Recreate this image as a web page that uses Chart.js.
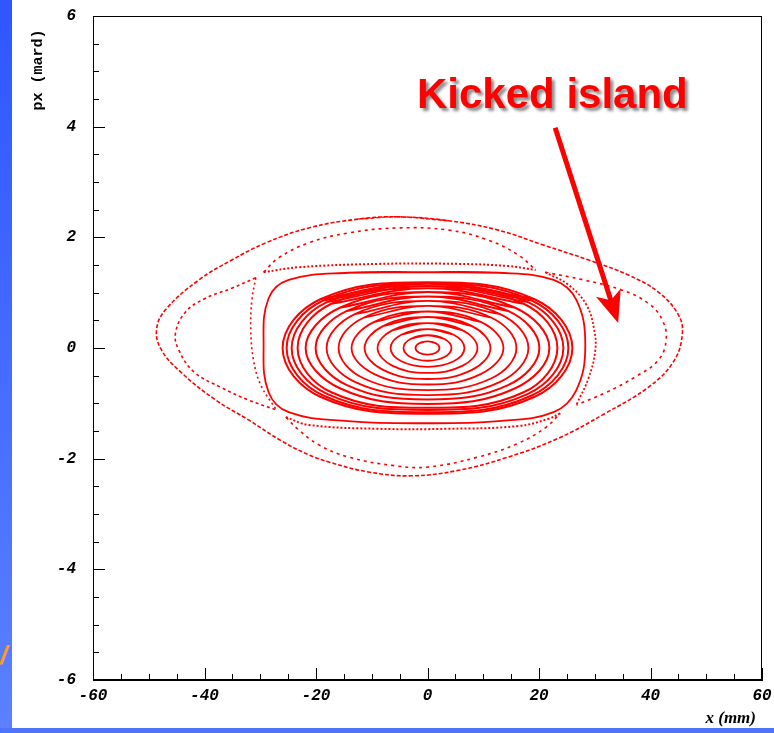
<!DOCTYPE html>
<html>
<head>
<meta charset="utf-8">
<script src="https://cdn.jsdelivr.net/npm/chart.js@4.4.1/dist/chart.umd.min.js"></script>
<style>
  html, body { margin: 0; padding: 0; background: #fff; }
  #wrap { position: relative; width: 774px; height: 733px; overflow: hidden; }
  #band { position: absolute; left: 0; top: 0; width: 12px; height: 733px; background: linear-gradient(#2f56ff, #5c80ff); }
  #foot { position: absolute; left: 0; top: 728px; width: 774px; height: 5px; background: #4f73ff; }
  #slash { position: absolute; left: 0; top: 640px; font: italic bold 26px "Liberation Sans"; color: #ff9a1a; }
  canvas { position: absolute; left: 0; top: 0; }
</style>
</head>
<body>
<div id="wrap">
  <div id="band"></div>
  <div id="foot"></div>
  <div id="slash">/</div>
  <canvas id="chart" width="774" height="733"></canvas>
</div>
<script>
// tick labels
const xTickValues = [-60, -40, -20, 0, 20, 40, 60];
const yTickValues = [-6, -4, -2, 0, 2, 4, 6];

// core orbits (x in mm, px in mrad), each closed from the top
const coreX = [
    [0, 1.52, 2.15, 1.52, 0, -1.52, -2.15, -1.52, 0],
    [0, 3.04, 4.3, 3.04, 0, -3.04, -4.3, -3.04, 0],
    [0, 4.69, 6.63, 4.69, 0, -4.69, -6.63, -4.69, 0],
    [0, 6.33, 8.96, 6.33, 0, -6.33, -8.96, -6.33, 0],
    [0, 7.98, 11.29, 7.98, 0, -7.98, -11.29, -7.98, 0],
    [0, 9.63, 13.62, 9.63, 0, -9.63, -13.62, -9.63, 0],
    [0, 11.48, 15.95, 11.48, 0, -11.48, -15.95, -11.48, 0],
    [0, 13.03, 18.1, 13.03, 0, -13.03, -18.1, -13.03, 0],
    [0, 14.45, 20.07, 14.45, 0, -14.45, -20.07, -14.45, 0],
    [0, 15.74, 21.86, 15.74, 0, -15.74, -21.86, -15.74, 0],
    [0, 17.24, 23.3, 17.24, 0, -17.24, -23.3, -17.24, 0],
    [0, 18.03, 24.37, 18.03, 0, -18.03, -24.37, -18.03, 0],
    [0, 18.7, 25.27, 18.7, 0, -18.7, -25.27, -18.7, 0],
    [0, 19.23, 25.99, 19.23, 0, -19.23, -25.99, -19.23, 0]
];
const coreY = [
    [0.12, 0.085, 0, -0.085, -0.12, -0.085, 0, 0.085, 0.12],
    [0.23, 0.163, 0, -0.163, -0.23, -0.163, 0, 0.163, 0.23],
    [0.34, 0.24, 0, -0.24, -0.34, -0.24, 0, 0.24, 0.34],
    [0.45, 0.318, 0, -0.318, -0.45, -0.318, 0, 0.318, 0.45],
    [0.56, 0.396, 0, -0.396, -0.56, -0.396, 0, 0.396, 0.56],
    [0.66, 0.467, 0, -0.467, -0.66, -0.467, 0, 0.467, 0.66],
    [0.76, 0.547, 0, -0.547, -0.76, -0.547, 0, 0.547, 0.76],
    [0.85, 0.612, 0, -0.612, -0.85, -0.612, 0, 0.612, 0.85],
    [0.93, 0.67, 0, -0.67, -0.93, -0.67, 0, 0.67, 0.93],
    [1.01, 0.727, 0, -0.727, -1.01, -0.727, 0, 0.727, 1.01],
    [1.08, 0.80, 0, -0.80, -1.08, -0.80, 0, 0.80, 1.08],
    [1.12, 0.829, 0, -0.829, -1.12, -0.829, 0, 0.829, 1.12],
    [1.16, 0.858, 0, -0.858, -1.16, -0.858, 0, 0.858, 1.16],
    [1.19, 0.881, 0, -0.881, -1.19, -0.881, 0, 0.881, 1.19]
];

// solid orbit just outside the core
const ringX = [-0.9, 12.7, 22.6, 26.7, 28.3, 26.7, 22.6, 12.7, -0.9, -14.2, -24.9, -28.5, -29.4, -28.5, -24.9, -14.2, -0.9];
const ringY = [1.37, 1.36, 1.23, 0.87, 0.05, -0.76, -1.16, -1.32, -1.36, -1.32, -1.16, -0.80, 0.05, 0.90, 1.23, 1.36, 1.37];

// outermost orbit
const outerX = [-5.2, 3.8, 12.7, 20.8, 28.9, 36.0, 41.4, 45.0, 45.7, 44.1, 39.6, 31.9, 23.5, 14.5, 5.6, -2.9, -10.6, -17.7, -21.3, -26.2, -32.1, -38.0, -44.1, -47.7, -48.6, -47.0, -41.0, -35.1, -29.0, -21.3, -12.4, -5.2];
const outerY = [2.37, 2.30, 2.13, 1.86, 1.59, 1.32, 1.01, 0.60, 0.24, -0.25, -0.71, -1.18, -1.63, -1.97, -2.21, -2.31, -2.24, -2.06, -1.93, -1.68, -1.30, -0.94, -0.45, -0.04, 0.33, 0.69, 1.23, 1.59, 1.90, 2.17, 2.33, 2.37];

// four islands, each an outer and an inner arc from tip to tip
const topOutX = [-29.4, -26.7, -21.3, -14.2, -5.2, 3.8, 10.9, 16.3, 19.4];
const topOutY = [1.37, 1.63, 1.90, 2.08, 2.17, 2.13, 1.95, 1.68, 1.41];
const topInX = [-29.4, -23.1, -8.8, 5.6, 14.5, 19.4];
const topInY = [1.37, 1.46, 1.52, 1.52, 1.48, 1.41];

const rightOutX = [21.1, 28.0, 34.8, 39.6, 42.1, 42.8, 41.4, 37.3, 31.9, 26.7];
const rightOutY = [1.37, 1.23, 1.05, 0.81, 0.51, 0.14, -0.22, -0.52, -0.81, -1.03];
const rightInX = [21.1, 25.3, 28.5, 29.9, 30.1, 28.9, 26.7];
const rightInY = [1.37, 1.14, 0.78, 0.33, -0.04, -0.54, -1.03];

const bottomOutX = [-25.4, -23.1, -19.5, -14.2, -5.7, 0.2, 9.1, 16.3, 21.3, 23.8];
const bottomOutY = [-1.25, -1.48, -1.75, -1.97, -2.13, -2.15, -1.97, -1.72, -1.43, -1.18];
const bottomInX = [-25.4, -21.3, -8.8, 3.8, 16.3, 21.7, 23.8];
const bottomInY = [-1.25, -1.39, -1.46, -1.46, -1.41, -1.28, -1.18];

const leftOutX = [-30.8, -35.1, -39.8, -43.4, -45.2, -44.6, -41.9, -36.9, -32.1, -27.1];
const leftOutY = [1.27, 1.08, 0.90, 0.65, 0.27, -0.04, -0.43, -0.72, -0.94, -1.12];
const leftInX = [-30.8, -31.5, -31.7, -31.2, -29.9, -27.1];
const leftInY = [1.27, 0.87, 0.33, -0.22, -0.67, -1.12];

// annotation
const noteText = 'Kicked island';
const noteAt = { x: 22.4, y: 4.34 };
const arrowFrom = { x: 22.9, y: 3.98 };
const arrowTo = { x: 34.2, y: 0.45 };

const RED = '#ff0000';

function pts(xs, ys) {
    return xs.map((x, i) => ({ x: x, y: ys[i] }));
}

function curve(data, width, dash) {
    return {
        data: data,
        showLine: true,
        tension: 0.4,
        borderColor: RED,
        backgroundColor: RED,
        borderWidth: width,
        borderDash: dash || [],
        pointRadius: 0,
        fill: false
    };
}

// open arc: the tips stay sharp
function arc(xs, ys, width, dash) {
    return curve(pts(xs, ys), width, dash);
}

// closed orbit: wrap one point on each end so the spline has no corner at the seam
function loop(xs, ys, width, dash) {
    const p = pts(xs, ys).slice(0, -1);
    const n = p.length;
    return curve([p[n - 1]].concat(p, [p[0], p[1]]), width, dash);
}

const datasets = [];
coreX.forEach((xs, i) => {
    datasets.push(loop(xs, coreY[i], i >= 8 ? 2 : 1.8));
});
datasets.push(loop(ringX, ringY, 1.8));
datasets.push(loop(outerX, outerY, 1.6, [4, 2]));
datasets.push(arc(topOutX, topOutY, 1.6, [3, 4]));
datasets.push(arc(topInX, topInY, 2, [2, 2]));
datasets.push(arc(rightOutX, rightOutY, 1.6, [3, 4]));
datasets.push(arc(rightInX, rightInY, 1.8, [2, 2]));
datasets.push(arc(bottomOutX, bottomOutY, 1.6, [3, 4]));
datasets.push(arc(bottomInX, bottomInY, 2, [2, 2]));
datasets.push(arc(leftOutX, leftOutY, 1.6, [3, 3]));
datasets.push(arc(leftInX, leftInY, 1.6, [2, 3]));

// frame, inward ticks, axis titles and the arrow note
const framePlugin = {
    id: 'frame',
    afterDraw(chart) {
        const ctx = chart.ctx;
        const a = chart.chartArea;
        const xs = chart.scales.x;
        const ys = chart.scales.y;
        ctx.save();
        ctx.strokeStyle = '#000';
        ctx.lineWidth = 1;
        ctx.strokeRect(a.left + 0.5, a.top + 0.5, a.right - a.left - 1, a.bottom - a.top - 1);

        ctx.beginPath();
        for (let v = -60; v <= 60; v += 5) {
            const px = Math.round(xs.getPixelForValue(v)) + 0.5;
            const len = v % 20 === 0 ? 12 : 6;
            ctx.moveTo(px, a.bottom);
            ctx.lineTo(px, a.bottom - len);
        }
        for (let v = -6; v <= 6; v += 0.5) {
            const py = Math.round(ys.getPixelForValue(v)) + 0.5;
            const len = v % 2 === 0 ? 12 : 6;
            ctx.moveTo(a.left, py);
            ctx.lineTo(a.left + len, py);
        }
        ctx.stroke();

        ctx.fillStyle = '#000';
        ctx.font = 'italic bold 17px "Liberation Serif"';
        ctx.textAlign = 'right';
        ctx.textBaseline = 'middle';
        ctx.fillText('x (mm)', a.right - 6, 719);

        ctx.save();
        ctx.translate(38, 70);
        ctx.rotate(-Math.PI / 2);
        ctx.textAlign = 'center';
        ctx.font = 'bold 15px "Liberation Mono"';
        ctx.fillText('px (mard)', 0, 0);
        ctx.restore();

        // note text with a soft shadow
        const tx = xs.getPixelForValue(noteAt.x);
        const ty = ys.getPixelForValue(noteAt.y);
        ctx.font = 'bold 42px "Liberation Sans"';
        ctx.textAlign = 'center';
        ctx.textBaseline = 'alphabetic';
        ctx.shadowColor = 'rgba(0,0,0,0.45)';
        ctx.shadowOffsetX = 3;
        ctx.shadowOffsetY = 3;
        ctx.shadowBlur = 3;
        ctx.fillStyle = RED;
        ctx.fillText(noteText, tx, ty);
        ctx.shadowColor = 'transparent';

        // arrow
        const x0 = xs.getPixelForValue(arrowFrom.x), y0 = ys.getPixelForValue(arrowFrom.y);
        const x1 = xs.getPixelForValue(arrowTo.x), y1 = ys.getPixelForValue(arrowTo.y);
        const dx = x1 - x0, dy = y1 - y0;
        const L = Math.hypot(dx, dy);
        const ux = dx / L, uy = dy / L;
        const nx = -uy, ny = ux;
        ctx.strokeStyle = RED;
        ctx.lineWidth = 5;
        ctx.beginPath();
        ctx.moveTo(x0, y0);
        ctx.lineTo(x1 - ux * 20, y1 - uy * 20);
        ctx.stroke();
        ctx.fillStyle = RED;
        ctx.beginPath();
        ctx.moveTo(x1, y1);
        ctx.lineTo(x1 - ux * 32 + nx * 13, y1 - uy * 32 + ny * 13);
        ctx.lineTo(x1 - ux * 24, y1 - uy * 24);
        ctx.lineTo(x1 - ux * 32 - nx * 13, y1 - uy * 32 - ny * 13);
        ctx.closePath();
        ctx.fill();
        ctx.restore();
    }
};

const tickFont = { family: '"Liberation Mono"', size: 16, style: 'italic', weight: 'bold' };

new Chart(document.getElementById('chart').getContext('2d'), {
    type: 'scatter',
    data: { datasets: datasets },
    options: {
        responsive: false,
        animation: false,
        events: [],
        layout: { padding: { left: 0, top: 16, right: 12, bottom: 0 } },
        plugins: { legend: { display: false }, tooltip: { enabled: false } },
        scales: {
            x: {
                type: 'linear',
                min: -60,
                max: 60,
                afterBuildTicks: s => { s.ticks = xTickValues.map(v => ({ value: v })); },
                afterFit: s => { s.height = 53; s.paddingLeft = 0; s.paddingRight = 0; },
                grid: { drawOnChartArea: false, drawTicks: false },
                border: { display: true, color: '#000', width: 1 },
                ticks: { color: '#000', font: tickFont, padding: 6, maxRotation: 0, autoSkip: false }
            },
            y: {
                type: 'linear',
                min: -6,
                max: 6,
                afterBuildTicks: s => { s.ticks = yTickValues.map(v => ({ value: v })); },
                afterFit: s => { s.width = 93; s.paddingTop = 0; s.paddingBottom = 0; },
                grid: { drawOnChartArea: false, drawTicks: false },
                border: { display: true, color: '#000', width: 1 },
                ticks: { color: '#000', font: tickFont, padding: 17, autoSkip: false }
            }
        }
    },
    plugins: [framePlugin]
});
</script>
</body>
</html>
